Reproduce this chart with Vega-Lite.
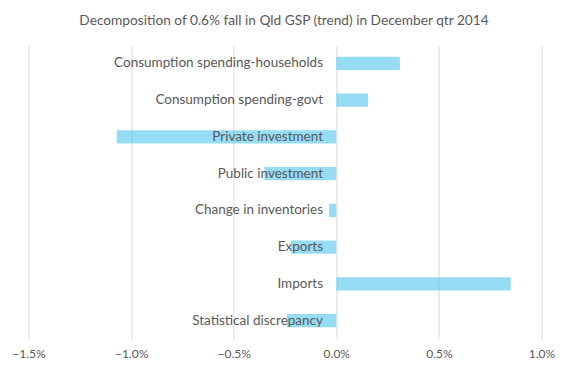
{
  "$schema": "https://vega.github.io/schema/vega-lite/v6.json",
  "width": 513,
  "height": 294,
  "autosize": {"type": "none"},
  "padding": {"left": 28.5, "top": 45, "right": 26, "bottom": 30},
  "background": "white",
  "title": {
    "text": "Decomposition of 0.6% fall in Qld GSP (trend) in December qtr 2014",
    "font": "Lato",
    "fontSize": 13.7,
    "fontWeight": "normal",
    "color": "#595959",
    "anchor": "middle",
    "frame": "group",
    "dx": -1,
    "offset": 17
  },
  "data": {
    "values": [
      {"component": "Consumption spending-households", "value": 0.0031},
      {"component": "Consumption spending-govt", "value": 0.00155},
      {"component": "Private investment", "value": -0.0107},
      {"component": "Public investment", "value": -0.0035},
      {"component": "Change in inventories", "value": -0.00035},
      {"component": "Exports", "value": -0.0022},
      {"component": "Imports", "value": 0.0085},
      {"component": "Statistical discrepancy", "value": -0.0024}
    ]
  },
  "mark": {"type": "bar", "color": "#52c5ee", "opacity": 0.6},
  "encoding": {
    "y": {
      "field": "component",
      "type": "nominal",
      "sort": null,
      "scale": {"paddingInner": 0.64, "paddingOuter": 0.32},
      "axis": {
        "title": null,
        "domain": false,
        "ticks": false,
        "tickSize": 0,
        "grid": false,
        "offset": -308,
        "labelPadding": 14,
        "labelFont": "Lato",
        "labelFontSize": 13.5,
        "labelColor": "#595959",
        "labelLimit": 400,
        "zindex": 1
      }
    },
    "x": {
      "field": "value",
      "type": "quantitative",
      "scale": {"domain": [-0.015, 0.01], "nice": false, "zero": false},
      "axis": {
        "title": null,
        "values": [-0.015, -0.01, -0.005, 0, 0.005, 0.01],
        "format": ".1%",
        "domain": false,
        "ticks": false,
        "tickSize": 0,
        "grid": true,
        "gridColor": "#d9d9d9",
        "gridWidth": 1,
        "labelPadding": 9,
        "labelFont": "Lato",
        "labelFontSize": 12,
        "labelColor": "#595959",
        "labelFlush": false,
        "zindex": 0
      }
    }
  },
  "config": {"view": {"stroke": null}}
}
